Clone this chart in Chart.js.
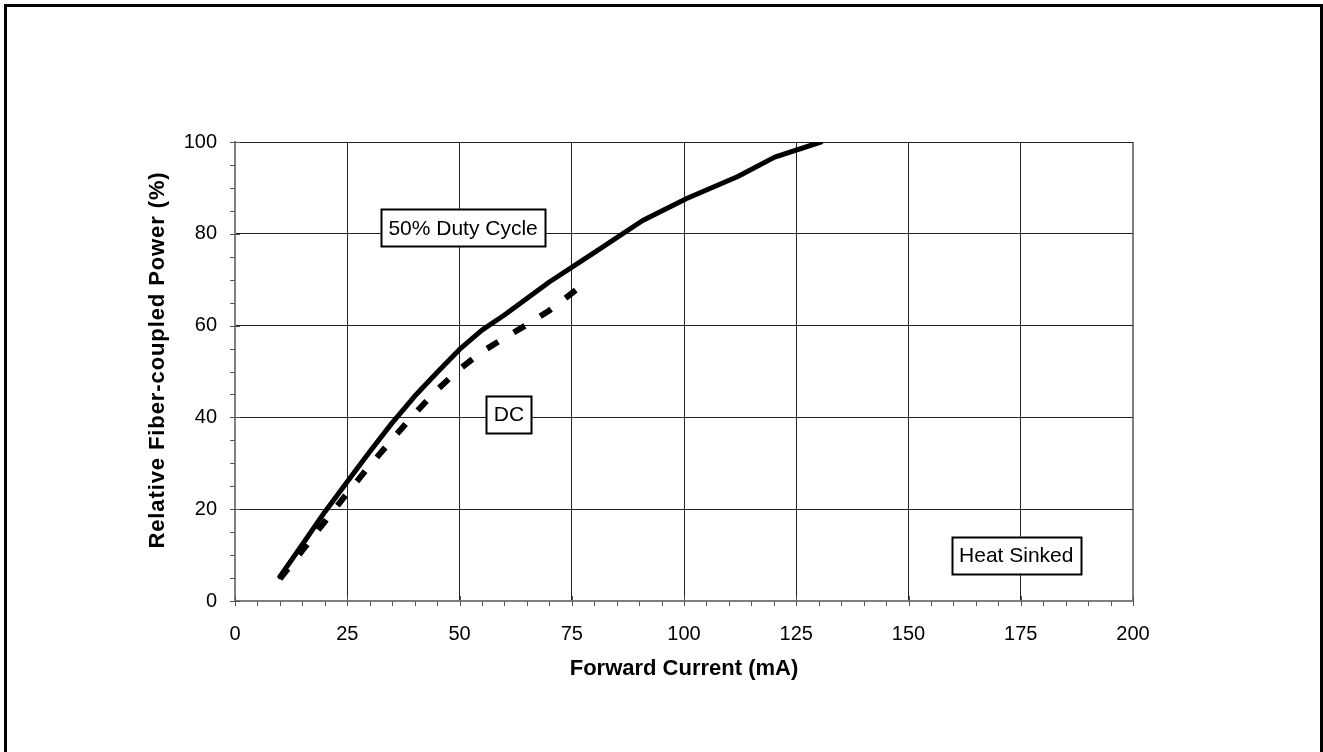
<!DOCTYPE html>
<html>
<head>
<meta charset="utf-8">
<script src="https://cdn.jsdelivr.net/npm/chart.js@4"></script>
<style>
  html, body { margin: 0; padding: 0; background: #fff; }
  #wrap { width: 1323px; height: 752px; }
</style>
</head>
<body>
<div id="wrap"><canvas id="myChart" width="1323" height="752"></canvas></div>
<script>
// forward current (mA) and relative power (%)
let pulsedCurrent = [10, 15, 20, 25, 30, 35, 40, 45, 50, 55, 60, 70, 80, 90.8, 100.6, 112, 120.2, 130.5];
let pulsedPower   = [5.3, 12.3, 19.4, 26, 32.5, 38.8, 44.6, 49.8, 54.8, 59, 62.3, 69.5, 75.9, 82.9, 87.7, 92.5, 96.7, 100];
let dcCurrent = [10, 15, 20, 25, 30, 35, 40, 45, 50, 55, 60, 65, 70, 76];
let dcPower   = [4.8, 11, 17.3, 23.5, 29.5, 35.2, 40.8, 46, 50.5, 54.3, 57.3, 60.2, 63.3, 67.8];

let xTickLabels = [0, 25, 50, 75, 100, 125, 150, 175, 200];
let yTickLabels = [0, 20, 40, 60, 80, 100];

let noteText = ['50% Duty Cycle', 'DC', 'Heat Sinked'];
let xTitle = 'Forward Current (mA)';
let yTitle = 'Relative Fiber-coupled Power (%)';

const FONT = 'Arial, "Liberation Sans", sans-serif';
Chart.defaults.font.family = FONT;
Chart.defaults.color = '#000';

function toPoints(xs, ys) {
  return xs.map((x, i) => ({x: x, y: ys[i]}));
}

// boxed text notes, anchored in data units
const notes = [
  {text: noteText[0], x: 50.8, y: 81.3},
  {text: noteText[1], x: 61, y: 40.7},
  {text: noteText[2], x: 174, y: 10}
];

const extras = {
  id: 'extras',
  afterDatasetsDraw(chart) {
    const ctx = chart.ctx;
    const xs = chart.scales.x, ys = chart.scales.y;
    const area = chart.chartArea;
    ctx.save();
    // minor + major tick marks
    ctx.strokeStyle = '#555';
    ctx.lineWidth = 1;
    ctx.beginPath();
    for (let v = 0; v <= 200; v += 5) {
      const px = Math.round(xs.getPixelForValue(v)) + 0.5;
      const major = v % 25 === 0;
      ctx.moveTo(px, area.bottom + (major ? -5 : 0));
      ctx.lineTo(px, area.bottom + 5);
    }
    for (let v = 0; v <= 100; v += 5) {
      const py = Math.round(ys.getPixelForValue(v)) + 0.5;
      const major = v % 20 === 0;
      ctx.moveTo(area.left - 5, py);
      ctx.lineTo(area.left + (major ? 5 : 0), py);
    }
    ctx.stroke();

    // notes
    ctx.font = '21px ' + FONT;
    ctx.textAlign = 'center';
    ctx.textBaseline = 'middle';
    notes.forEach(n => {
      const cx = xs.getPixelForValue(n.x);
      const cy = ys.getPixelForValue(n.y);
      const w = ctx.measureText(n.text).width + 15;
      const h = 37;
      ctx.fillStyle = '#fff';
      ctx.fillRect(cx - w / 2, cy - h / 2, w, h);
      ctx.strokeStyle = '#000';
      ctx.lineWidth = 2;
      ctx.strokeRect(Math.round(cx - w / 2) + 0.5, Math.round(cy - h / 2) + 0.5, Math.round(w), h);
      ctx.fillStyle = '#000';
      ctx.fillText(n.text, cx, cy + 1);
    });

    // axis titles
    ctx.font = 'bold 22px ' + FONT;
    ctx.fillStyle = '#000';
    ctx.fillText(xTitle, (area.left + area.right) / 2, 669);
    ctx.translate(158, 360);
    ctx.rotate(-Math.PI / 2);
    if ('letterSpacing' in ctx) ctx.letterSpacing = '0.9px';
    ctx.fillText(yTitle, 0, 0);
    ctx.restore();
  },
  afterDraw(chart) {
    const ctx = chart.ctx;
    ctx.save();
    ctx.strokeStyle = '#000';
    ctx.lineWidth = 3;
    ctx.strokeRect(5.5, 5.5, 1316, 800);
    ctx.restore();
  }
};

const ctx = document.getElementById('myChart');
new Chart(ctx, {
  type: 'scatter',
  data: {
    datasets: [
      {
        label: 'DC',
        data: toPoints(dcCurrent, dcPower),
        showLine: true,
        borderColor: '#000',
        borderWidth: 6,
        borderDash: [13, 18.1],
        borderCapStyle: 'butt',
        pointRadius: 0,
        tension: 0
      },
      {
        label: '50% Duty Cycle',
        data: toPoints(pulsedCurrent, pulsedPower),
        showLine: true,
        borderColor: '#000',
        borderWidth: 5,
        borderCapStyle: 'round',
        borderJoinStyle: 'round',
        pointRadius: 0,
        tension: 0
      }
    ]
  },
  options: {
    responsive: false,
    animation: false,
    events: [],
    layout: { padding: { left: 145, top: 142, right: 190, bottom: 70 } },
    plugins: { legend: { display: false }, tooltip: { enabled: false } },
    scales: {
      x: {
        type: 'linear',
        min: 0, max: 200,
        afterBuildTicks: s => { s.ticks = xTickLabels.map(v => ({value: v})); },
        afterFit: s => { s.height = 81; },
        ticks: { padding: 21, font: { size: 20 }, maxRotation: 0 },
        grid: {
          drawTicks: false,
          color: c => c.tick && c.tick.value === 200 ? '#808080' : (c.tick && c.tick.value === 0 ? 'rgba(0,0,0,0)' : '#222'),
          lineWidth: c => c.tick && c.tick.value === 200 ? 2 : 1
        },
        border: { color: '#808080', width: 2 }
      },
      y: {
        type: 'linear',
        min: 0, max: 100,
        afterBuildTicks: s => { s.ticks = yTickLabels.map(v => ({value: v})); },
        afterFit: s => { s.width = 90; },
        ticks: { padding: 18, font: { size: 20 } },
        grid: {
          drawTicks: false,
          color: c => c.tick && c.tick.value === 0 ? 'rgba(0,0,0,0)' : '#222',
          lineWidth: 1
        },
        border: { color: '#808080', width: 2 }
      }
    }
  },
  plugins: [extras]
});
</script>
</body>
</html>
